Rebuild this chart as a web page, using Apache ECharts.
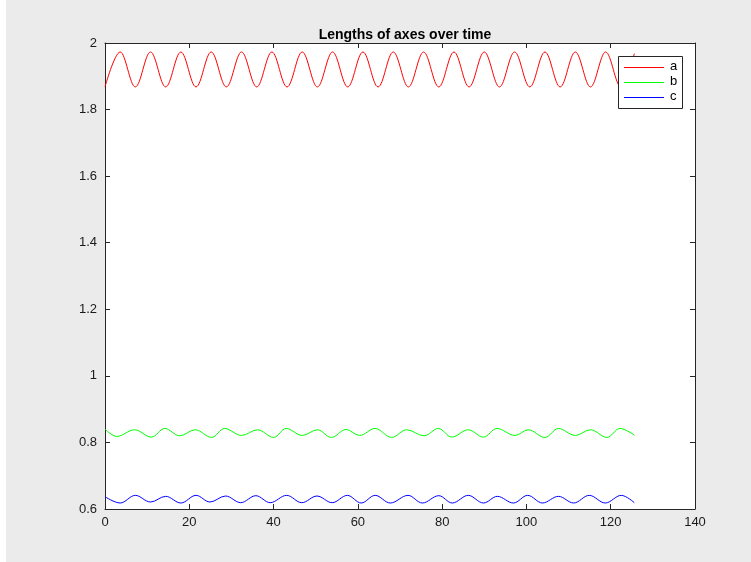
<!DOCTYPE html>
<html>
<head>
<meta charset="utf-8">
<script src="https://cdn.jsdelivr.net/npm/echarts@6/dist/echarts.min.js"></script>
<style>
html,body{margin:0;padding:0;background:#ffffff;}
#c{width:751px;height:562px;}
</style>
</head>
<body>
<div id="c"></div>
<script>
// ---- data (time, length) ----
var aX = [0, 3.6, 7.2, 10.8, 14.4, 18.0, 21.6, 25.2, 28.8, 32.4, 36.0, 39.6, 43.2, 46.8, 50.4, 54.0, 57.6, 61.2, 64.8, 68.4, 72.0, 75.6, 79.2, 82.8, 86.4, 90.0, 93.6, 97.2, 100.8, 104.4, 108.0, 111.6, 115.2, 118.8, 122.4, 125.6];
var aY = [1.868, 1.973, 1.868, 1.973, 1.868, 1.973, 1.868, 1.973, 1.868, 1.973, 1.868, 1.973, 1.868, 1.973, 1.868, 1.973, 1.868, 1.973, 1.868, 1.973, 1.868, 1.973, 1.868, 1.973, 1.868, 1.973, 1.868, 1.973, 1.868, 1.973, 1.868, 1.973, 1.868, 1.973, 1.868, 1.968];

var bX = [0, 2.8, 7.0, 11.0, 14.2, 17.7, 21.4, 25.3, 28.4, 32.4, 36.2, 40.0, 43.0, 46.8, 50.4, 53.7, 57.2, 60.4, 64.1, 68.0, 71.6, 75.7, 79.1, 82.3, 86.2, 89.8, 93.0, 97.3, 100.4, 104.4, 107.6, 111.6, 115.2, 119.1, 122.2, 125.6];
var bY = [0.840, 0.818, 0.838, 0.816, 0.842, 0.820, 0.838, 0.815, 0.842, 0.821, 0.838, 0.815, 0.842, 0.821, 0.838, 0.815, 0.839, 0.821, 0.842, 0.815, 0.838, 0.820, 0.842, 0.816, 0.838, 0.816, 0.842, 0.821, 0.838, 0.815, 0.842, 0.821, 0.838, 0.815, 0.842, 0.822];

var cX = [0, 3.6, 7.2, 10.8, 14.4, 18.0, 21.6, 24.9, 28.6, 32.2, 35.8, 39.2, 43.1, 46.7, 50.3, 53.9, 57.5, 60.8, 64.1, 67.7, 71.9, 75.3, 79.2, 82.4, 86.2, 89.8, 93.1, 96.9, 100.3, 103.8, 107.6, 111.2, 114.9, 118.7, 122.5, 125.6];
var cY = [0.637, 0.618, 0.641, 0.621, 0.638, 0.618, 0.641, 0.621, 0.639, 0.619, 0.640, 0.619, 0.641, 0.619, 0.639, 0.619, 0.641, 0.618, 0.641, 0.618, 0.641, 0.618, 0.640, 0.618, 0.641, 0.618, 0.638, 0.618, 0.641, 0.618, 0.638, 0.618, 0.641, 0.618, 0.641, 0.619];

var seriesNames = ['a', 'b', 'c'];
var seriesColors = ['#ff0000', '#00ff00', '#0000ff'];
var xTicks = {min: 0, max: 140, step: 20};
var yTicks = {min: 0.6, max: 2, step: 0.2};
var titleText = 'Lengths of axes over time';

function pairs(xs, ys) { return xs.map(function (x, i) { return [x, ys[i]]; }); }

var axisColor = '#262626';
var font = 'Helvetica, "Liberation Sans", Arial, sans-serif';

var chart = echarts.init(document.getElementById('c'), null, {renderer: 'canvas'});

function xAx(pos, showLabel) {
  return {
    type: 'value', position: pos, min: xTicks.min, max: xTicks.max, interval: xTicks.step,
    axisLine: {show: true, onZero: false, lineStyle: {color: axisColor, width: 1}},
    axisTick: {show: true, inside: true, length: 5, lineStyle: {color: axisColor}},
    axisLabel: {show: showLabel, color: '#1a1a1a', fontSize: 13, fontFamily: font, margin: 7},
    splitLine: {show: false}
  };
}
function yAx(pos, showLabel) {
  return {
    type: 'value', position: pos, min: yTicks.min, max: yTicks.max, interval: yTicks.step,
    axisLine: {show: true, onZero: false, lineStyle: {color: axisColor, width: 1}},
    axisTick: {show: true, inside: true, length: 5, lineStyle: {color: axisColor}},
    axisLabel: {show: showLabel, color: '#1a1a1a', fontSize: 13, fontFamily: font, margin: 8,
      formatter: function (v) { return String(Math.round(v * 10) / 10); }},
    splitLine: {show: false}
  };
}

var data = [pairs(aX, aY), pairs(bX, bY), pairs(cX, cY)];

// one legend per series (text), icon lines drawn as legend decorations
var legends = seriesNames.map(function (n, i) {
  return {
    data: [n], orient: 'vertical', left: 626, top: 60 + i * 15, z: 10,
    padding: 0, itemWidth: 40, itemHeight: 14,
    itemStyle: {opacity: 0},
    lineStyle: {opacity: 0},
    textStyle: {fontSize: 13, color: '#000000', fontFamily: font, padding: [0, 0, 0, -2]},
    selectedMode: false
  };
});

var graphics = [
  {type: 'rect', left: 0, top: 0, shape: {width: 6, height: 562}, style: {fill: '#ffffff'}, z: 100},
  {type: 'rect', z: 5, shape: {x: 618.5, y: 56.5, width: 64, height: 52},
   style: {fill: '#ffffff', stroke: '#262626', lineWidth: 1}}
];
seriesColors.forEach(function (col, i) {
  graphics.push({type: 'line', z: 11,
    shape: {x1: 624, y1: 67.5 + i * 15, x2: 664, y2: 67.5 + i * 15},
    style: {stroke: col, lineWidth: 1}});
});

var option = {
  backgroundColor: '#ebebeb',
  animation: false,
  graphic: graphics,
  title: {
    text: titleText, left: 400, top: 23, textAlign: 'center',
    textStyle: {fontSize: 14, fontWeight: 'bold', color: '#000000', fontFamily: font}
  },
  grid: {left: 105, right: 56, top: 43, bottom: 53, show: true, backgroundColor: '#ffffff', borderWidth: 0},
  legend: legends,
  xAxis: [xAx('bottom', true), xAx('top', false)],
  yAxis: [yAx('left', true), yAx('right', false)],
  series: data.map(function (d, i) {
    return {
      name: seriesNames[i], type: 'line', data: d, xAxisIndex: 0, yAxisIndex: 0,
      symbol: 'none', smooth: 0.36, lineStyle: {color: seriesColors[i], width: 1},
      itemStyle: {color: seriesColors[i]}
    };
  })
};
chart.setOption(option);
</script>
</body>
</html>
